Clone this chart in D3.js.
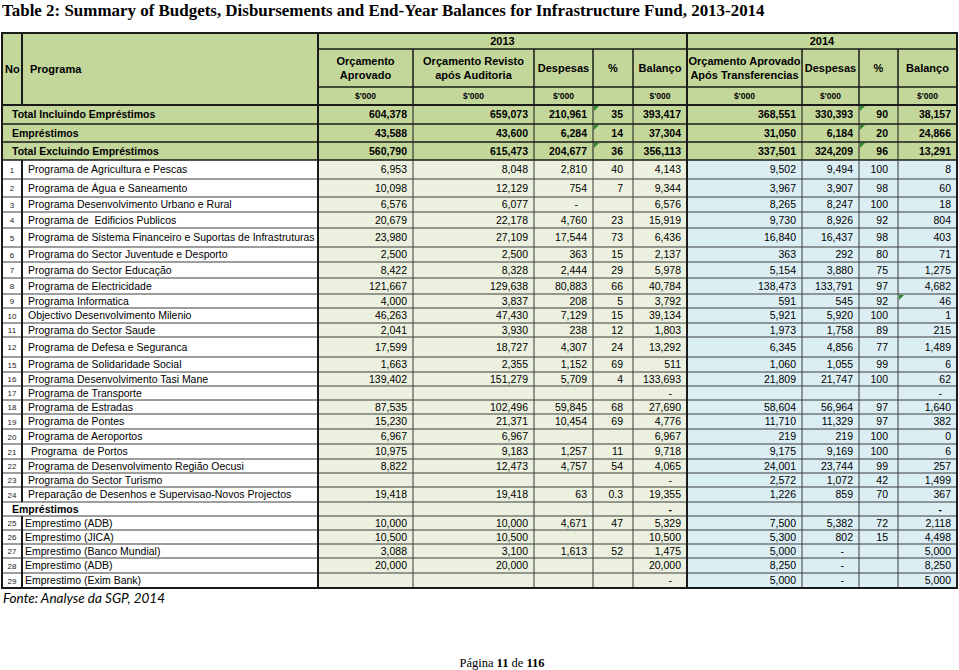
<!DOCTYPE html>
<html><head><meta charset="utf-8">
<script src="https://cdn.jsdelivr.net/npm/d3@7"></script>
<style>
body{margin:0;background:#fff;}
svg{display:block;}
text{white-space:pre;}
</style></head><body>
<svg id="c" width="959" height="670"></svg>
<script>
// ---------- DATA ----------
const title = "Table 2: Summary of Budgets, Disbursements and End-Year Balances for Infrastructure Fund, 2013-2014";
const yearLabels = ["2013", "2014"];
const headerLabels = ["No", "Programa", "Orçamento\nAprovado", "Orçamento Revisto\napós Auditoria", "Despesas", "%", "Balanço",
  "Orçamento Aprovado\nApós Transferencias", "Despesas", "%", "Balanço"];
const unitLabels = ["", "", "$'000", "$'000", "$'000", "", "$'000", "$'000", "$'000", "", "$'000"];
const rowKind = ["total","total","total",
  "n","n","n","n","n","n","n","n","n","n","n","n","n","n","n","n","n","n","n","n","n","n",
  "section","n","n","n","n","n"];
const rowNo = ["","","","1","2","3","4","5","6","7","8","9","10","11","12","15","16","17","18","19","20","21","22","23","24","","25","26","27","28","29"];
const programa = [
  "Total Incluindo Empréstimos", "Empréstimos", "Total Excluindo Empréstimos",
  "Programa de Agricultura e Pescas", "Programa de Água e Saneamento", "Programa Desenvolvimento Urbano e Rural",
  "Programa de  Edificios Publicos", "Programa de Sistema Financeiro e Suportas de Infrastruturas",
  "Programa do Sector Juventude e Desporto", "Programa do Sector Educação", "Programa de Electricidade",
  "Programa Informatica", "Objectivo Desenvolvimento Milenio", "Programa do Sector Saude",
  "Programa de Defesa e Seguranca", "Programa de Solidaridade Social", "Programa Desenvolvimento Tasi Mane",
  "Programa de Transporte", "Programa de Estradas", "Programa de Pontes", "Programa de Aeroportos",
  " Programa  de Portos", "Programa de Desenvolvimento Região Oecusi", "Programa do Sector Turismo",
  "Preparação de Desenhos e Supervisao-Novos Projectos", "Empréstimos",
  "Emprestimo (ADB)", "Emprestimo (JICA)", "Emprestimo (Banco Mundial)", "Emprestimo (ADB)", "Emprestimo (Exim Bank)"];
const N = null, D = "-";
const orcAprovado13 = [604378,43588,560790,6953,10098,6576,20679,23980,2500,8422,121667,4000,46263,2041,17599,1663,139402,N,87535,15230,6967,10975,8822,N,19418,N,10000,10500,3088,20000,N];
const orcRevisto13  = [659073,43600,615473,8048,12129,6077,22178,27109,2500,8328,129638,3837,47430,3930,18727,2355,151279,N,102496,21371,6967,9183,12473,N,19418,N,10000,10500,3100,20000,N];
const despesas13    = [210961,6284,204677,2810,754,D,4760,17544,363,2444,80883,208,7129,238,4307,1152,5709,N,59845,10454,N,1257,4757,N,63,N,4671,N,1613,N,N];
const pct13         = [35,14,36,40,7,N,23,73,15,29,66,5,15,12,24,69,4,N,68,69,N,11,54,N,0.3,N,47,N,52,N,N];
const balanco13     = [393417,37304,356113,4143,9344,6576,15919,6436,2137,5978,40784,3792,39134,1803,13292,511,133693,D,27690,4776,6967,9718,4065,D,19355,D,5329,10500,1475,20000,D];
const orcAprovado14 = [368551,31050,337501,9502,3967,8265,9730,16840,363,5154,138473,591,5921,1973,6345,1060,21809,N,58604,11710,219,9175,24001,2572,1226,N,7500,5300,5000,8250,5000];
const despesas14    = [330393,6184,324209,9494,3907,8247,8926,16437,292,3880,133791,545,5920,1758,4856,1055,21747,N,56964,11329,219,9169,23744,1072,859,N,5382,802,D,D,D];
const pct14         = [90,20,96,100,98,100,92,98,80,75,97,92,100,89,77,99,100,N,97,97,100,100,99,42,70,N,72,15,N,N,N];
const balanco14     = [38157,24866,13291,8,60,18,804,403,71,1275,4682,46,1,215,1489,6,62,D,1640,382,0,6,257,1499,367,D,2118,4498,5000,8250,5000];
const flaggedCells = [[0,5],[1,5],[2,5],[0,9],[1,9],[2,9],[11,10]];
const sourceNote = "Fonte: Analyse da SGP, 2014";
const pageParts = [["Página ", false], ["11", true], [" de ", false], ["116", true]];

// ---------- LAYOUT ----------
const colEdges = [2, 22, 318, 413, 534, 593, 633, 687, 802, 859, 898, 957];
const headerY = [33, 49, 87, 105];
const rowHeights = [19,18,18,19,18,15,16,19,15,16,16,14,15,14,20,15,14,14,14,15,15,15,14,14,15,14,14,14,14,15,15];
const C = { hdr: "#c4d79b", g: "#ebf1de", b: "#dbeef4", line: "#3c3c3c", dark: "#1a1a1a" };
const SANS = "'Liberation Sans', Arial, Helvetica, sans-serif";
const SERIF = "'Liberation Serif', 'Times New Roman', serif";

const valueCols = [orcAprovado13, orcRevisto13, despesas13, pct13, balanco13, orcAprovado14, despesas14, pct14, balanco14];
const isPct = [false,false,false,true,false,false,false,true,false];

const svg = d3.select("#c");
const rowTops = [headerY[3]];
rowHeights.forEach((h,i) => rowTops.push(rowTops[i] + h));
const yRow = d3.scaleOrdinal().domain(d3.range(rowHeights.length + 1)).range(rowTops);
const xCol = d3.scaleOrdinal().domain(d3.range(colEdges.length)).range(colEdges);
const fmt = d3.format(",");

// Title (fitted to the reference width)
const tt = svg.append("text").attr("x", 2).attr("y", 16).attr("font-family", SERIF).attr("font-weight", "bold")
  .attr("font-size", 16).attr("fill", "#000").text(title);
tt.attr("font-size", 16 * 763 / tt.node().getComputedTextLength());

// Header background
svg.append("rect").attr("x", xCol(0)).attr("y", headerY[0]).attr("width", xCol(11) - xCol(0))
  .attr("height", headerY[3] - headerY[0]).attr("fill", C.hdr);

// Body backgrounds
const bodyG = svg.append("g");
rowKind.forEach((k, r) => {
  const y0 = yRow(r), h = rowHeights[r];
  if (k === "total") {
    bodyG.append("rect").attr("x", xCol(0)).attr("y", y0).attr("width", xCol(11)-xCol(0)).attr("height", h).attr("fill", C.hdr);
  } else {
    bodyG.append("rect").attr("x", xCol(2)).attr("y", y0).attr("width", xCol(7)-xCol(2)).attr("height", h).attr("fill", C.g);
    bodyG.append("rect").attr("x", xCol(7)).attr("y", y0).attr("width", xCol(11)-xCol(7)).attr("height", h).attr("fill", C.b);
  }
});

// Flag triangles
flaggedCells.forEach(([r, c]) => {
  const x = xCol(c) + 1, y = yRow(r) + 1;
  svg.append("path").attr("d", `M${x},${y}L${x+5},${y}L${x},${y+5}Z`).attr("fill", "#2f8a2f");
});

// Lines
const lines = svg.append("g").attr("fill", "none");
function ln(x1,y1,x2,y2,w,col){ lines.append("line").attr("x1",x1).attr("y1",y1).attr("x2",x2).attr("y2",y2)
  .attr("stroke", col || C.line).attr("stroke-width", w); }
ln(xCol(2), headerY[1], xCol(11), headerY[1], 1.5, C.dark);
ln(xCol(2), headerY[2], xCol(11), headerY[2], 1.5, C.dark);
ln(xCol(0), headerY[3], xCol(11), headerY[3], 2, C.dark);
ln(xCol(1), headerY[0], xCol(1), headerY[3], 2, C.dark);
ln(xCol(2), headerY[0], xCol(2), headerY[3], 2, C.dark);
ln(xCol(7), headerY[0], xCol(7), headerY[3], 2, C.dark);
[3,4,5,6,8,9,10].forEach(c => ln(xCol(c), headerY[1], xCol(c), headerY[3], 1.5, C.dark));
for (let r = 1; r < rowHeights.length; r++) {
  const strong = rowKind[r-1] === "total";
  ln(xCol(0), yRow(r), xCol(11), yRow(r), strong ? 1.5 : 1, strong ? C.dark : C.line);
}
rowKind.forEach((k, r) => {
  const y0 = yRow(r), y1 = yRow(r+1);
  for (let c = 1; c < 11; c++) {
    if (c === 1 && k !== "n") continue;
    const heavy = (c === 1 || c === 2 || c === 7);
    ln(xCol(c), y0, xCol(c), y1, heavy ? 2 : 1, heavy ? C.dark : (k === "total" ? C.dark : C.line));
  }
});
lines.append("rect").attr("x", xCol(0)).attr("y", headerY[0]).attr("width", xCol(11)-xCol(0))
  .attr("height", yRow(rowHeights.length) - headerY[0]).attr("stroke", C.dark).attr("stroke-width", 2);

// Header texts
const ht = svg.append("g").attr("font-family", SANS).attr("font-weight", "bold").attr("fill", "#000");
const hMid = (headerY[0] + headerY[3]) / 2;
ht.append("text").attr("x", xCol(0) + 3).attr("y", hMid + 4).attr("font-size", 11).text(headerLabels[0]);
ht.append("text").attr("x", xCol(1) + 8).attr("y", hMid + 4).attr("font-size", 11).text(headerLabels[1]);
[[2,7],[7,11]].forEach(([a,b], i) => {
  ht.append("text").attr("x", (xCol(a)+xCol(b))/2).attr("y", (headerY[0]+headerY[1])/2 + 4)
    .attr("text-anchor", "middle").attr("font-size", 11).text(yearLabels[i]);
});
for (let c = 2; c < 11; c++) {
  const cx = (xCol(c) + xCol(c+1)) / 2;
  const parts = headerLabels[c].split("\n");
  const mid = (headerY[1] + headerY[2]) / 2;
  parts.forEach((p, i) => {
    const y = mid + 4 + (parts.length === 1 ? 0 : (i === 0 ? -7 : 7));
    ht.append("text").attr("x", cx).attr("y", y).attr("text-anchor", "middle").attr("font-size", 11).text(p);
  });
  if (unitLabels[c]) {
    ht.append("text").attr("x", cx).attr("y", (headerY[2]+headerY[3])/2 + 3).attr("text-anchor", "middle")
      .attr("font-size", 8.5).text(unitLabels[c]);
  }
}

// Body texts
const bt = svg.append("g").attr("font-family", SANS).attr("fill", "#000");
rowKind.forEach((k, r) => {
  const cy = yRow(r) + rowHeights[r] / 2;
  const bold = k !== "n";
  const fs = 10.5;
  if (k === "n") {
    bt.append("text").attr("x", (xCol(0)+xCol(1))/2).attr("y", cy + 3).attr("text-anchor", "middle")
      .attr("font-size", 8).attr("fill", "#222").text(rowNo[r]);
    const pad = r >= 26 ? 3 : 6;
    bt.append("text").attr("x", xCol(1) + pad).attr("y", cy + 3.8).attr("font-size", fs).text(programa[r]);
  } else {
    bt.append("text").attr("x", xCol(0) + 10).attr("y", cy + 3.8).attr("font-size", fs).attr("font-weight", "bold").text(programa[r]);
  }
  valueCols.forEach((arr, j) => {
    const v = arr[r];
    if (v === null || v === undefined) return;
    const c = j + 2;
    let pad = isPct[j] ? 10 : 6;
    let s;
    if (v === D) { s = "-"; pad = 15; } else s = fmt(v);
    bt.append("text").attr("x", xCol(c+1) - pad).attr("y", cy + 3.8).attr("text-anchor", "end")
      .attr("font-size", fs).attr("font-weight", bold ? "bold" : "normal").text(s);
  });
});

// Source note
const src = svg.append("text").attr("x", 3).attr("y", 603).attr("font-family", "Lato, 'Open Sans', sans-serif")
  .attr("font-style", "italic").attr("font-size", 14).attr("fill", "#000").text(sourceNote);
const w = src.node().getComputedTextLength();
src.attr("font-size", 14 * 162 / w);

// Page footer
const pg = svg.append("text").attr("x", 502).attr("y", 667).attr("text-anchor", "middle")
  .attr("font-family", SERIF).attr("font-size", 12.5).attr("fill", "#000");
pageParts.forEach(([t, b]) => pg.append("tspan").attr("font-weight", b ? "bold" : "normal").text(t));
</script>
</body></html>
